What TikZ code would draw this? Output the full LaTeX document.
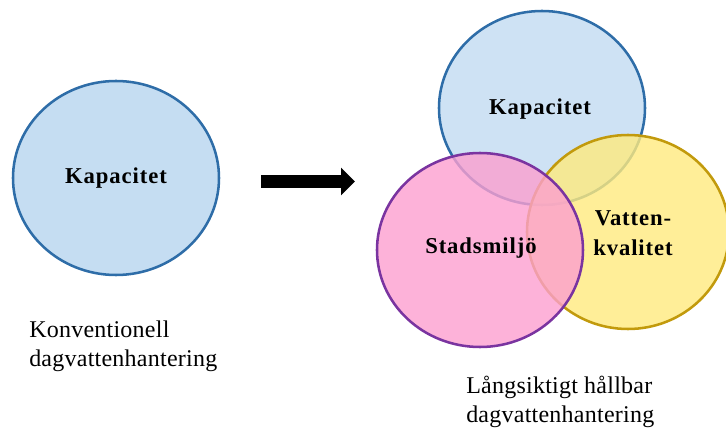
\documentclass[tikz,border=0pt]{standalone}
\usepackage{fontspec}
\setmainfont{Liberation Serif}
\usetikzlibrary{shapes.geometric,arrows.meta}
\definecolor{bfill}{HTML}{C5DDF2}
\definecolor{bline}{HTML}{2E6DA8}
\definecolor{pfill}{HTML}{FC9FD0}
\definecolor{pline}{HTML}{7A34A0}
\definecolor{yfill}{HTML}{FFEA7E}
\definecolor{yline}{HTML}{C29A0C}
\tikzset{
  boldlabel/.style={font=\fontsize{17}{22.5}\selectfont\bfseries\addfontfeature{LetterSpace=4}},
  bubble/.style={ellipse, inner sep=0pt, minimum width=154.5pt, minimum height=145.5pt,
    line width=1.9pt, align=center, boldlabel},
  blueb/.style={bubble, draw=bline, fill=bfill},
  pinkb/.style={bubble, draw=pline, fill=pfill},
  yellowb/.style={bubble, draw=yline, fill=yfill},
  caption/.style={anchor=west, align=left, inner sep=0pt, font=\fontsize{18}{21.5}\selectfont\addfontfeature{LetterSpace=1}},
}
\begin{document}
\begin{tikzpicture}[x=0.75pt,y=-0.75pt]
\useasboundingbox (0,0) rectangle (726,428);
% left
\node[blueb] (k0) at (116,178) {Kapacitet};
\node[caption] (c0) at (29,346) {Konventionell\\dagvattenhantering};
% arrow
\coordinate (a1) at (261,181.5);
\coordinate (a2) at (355,181.5);
\draw[line width=9.75pt, -{Triangle[length=10.5pt,width=20.25pt]}] (a1) -- (a2);
% right
\node[blueb, fill opacity=0.85, text opacity=1] (k1) at (542,108) {};
\node[yellowb, fill opacity=0.8, text opacity=1, minimum width=151.5pt] (v1) at (628,232) {};
\node[pinkb, fill opacity=0.8, text opacity=1] (s1) at (480,250) {};
\node[boldlabel] (tk) at (540,109) {Kapacitet};
\node[boldlabel] (ts) at (481,248) {Stadsmiljö};
\node[boldlabel, align=center] (tv) at (633,233) {Vatten-\\kvalitet};
\node[caption] (c1) at (466,402) {Långsiktigt hållbar\\dagvattenhantering};
\end{tikzpicture}
\end{document}
